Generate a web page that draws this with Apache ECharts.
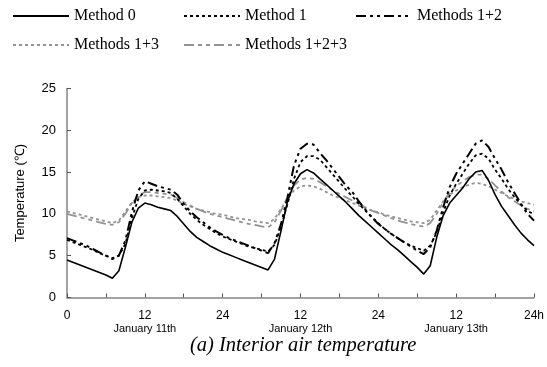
<!DOCTYPE html>
<html>
<head>
<meta charset="utf-8">
<script src="https://cdn.jsdelivr.net/npm/echarts@6/dist/echarts.min.js"></script>
<style>html,body{margin:0;padding:0;background:#fff;}#c{width:547px;height:367px;}</style>
</head>
<body>
<div id="c"></div>
<script>
var hours = [0,1,2,3,4,5,6,7,8,9,10,11,12,13,14,15,16,17,18,19,20,21,22,23,24,25,26,27,28,29,30,31,32,33,34,35,36,37,38,39,40,41,42,43,44,45,46,47,48,49,50,51,52,53,54,55,56,57,58,59,60,61,62,63,64,65,66,67,68,69,70,71,72];
var seriesNames = ['Method 0','Method 1','Methods 1+2','Methods 1+3','Methods 1+2+3'];
var method0 = [4.5,4.2,3.9,3.6,3.3,3.0,2.7,2.3,3.2,6.0,9.0,10.7,11.3,11.1,10.8,10.6,10.4,9.7,8.8,7.9,7.2,6.7,6.2,5.8,5.4,5.1,4.8,4.5,4.2,3.9,3.6,3.3,4.6,8.0,11.5,13.6,14.8,15.3,14.9,14.2,13.5,12.8,12.1,11.4,10.6,9.8,9.1,8.4,7.7,7.0,6.3,5.7,5.0,4.3,3.6,2.8,3.8,7.2,9.8,11.3,12.2,13.1,14.2,15.0,15.2,14.0,12.3,10.9,9.8,8.7,7.7,6.9,6.2];
var method1 = [6.9,6.6,6.3,6.0,5.7,5.3,5.0,4.7,5.0,6.4,9.5,11.8,12.8,12.9,12.8,12.7,12.5,11.8,10.9,10.0,9.3,8.7,8.2,7.7,7.3,7.0,6.7,6.4,6.1,5.9,5.7,5.5,6.3,8.5,11.2,14.2,16.2,16.9,16.9,16.5,15.6,14.7,13.8,12.9,12.1,11.2,10.4,9.6,8.9,8.2,7.6,7.1,6.6,6.2,5.9,5.6,6.2,7.8,10.2,12.2,13.6,14.8,16.0,17.0,17.2,16.6,15.3,14.2,13.0,12.0,11.1,10.4,9.9];
var method12 = [7.1,6.8,6.5,6.2,5.8,5.4,5.0,4.6,5.0,6.8,10.2,12.8,13.9,13.6,13.3,13.1,12.9,12.3,11.2,10.3,9.6,9.0,8.4,7.9,7.5,7.1,6.8,6.5,6.2,5.9,5.6,5.3,6.5,8.8,12.0,15.8,17.8,18.4,18.3,17.3,16.4,15.4,14.4,13.4,12.6,11.5,10.5,9.6,8.8,8.2,7.6,7.1,6.6,6.1,5.6,5.2,6.0,8.0,10.8,13.2,14.8,16.0,17.2,18.4,18.8,18.0,16.6,15.3,13.8,12.5,11.2,10.0,9.2];
var method13 = [10.3,10.1,9.9,9.7,9.5,9.3,9.1,8.9,9.2,10.3,11.4,12.0,12.2,12.2,12.1,12.0,11.9,11.6,11.2,10.9,10.6,10.4,10.2,10.0,9.9,9.7,9.5,9.4,9.3,9.1,9.0,8.9,9.4,10.6,11.8,12.8,13.3,13.4,13.3,13.0,12.6,12.2,11.9,11.6,11.3,11.0,10.7,10.4,10.2,9.9,9.7,9.5,9.3,9.1,9.0,8.9,9.3,10.4,11.5,12.3,12.8,13.2,13.5,13.7,13.6,13.3,12.9,12.5,12.1,11.8,11.5,11.3,11.1];
var method123 = [10.0,9.8,9.6,9.4,9.2,9.0,8.8,8.7,9.0,10.0,11.3,12.2,12.6,12.6,12.5,12.4,12.3,11.9,11.4,11.0,10.6,10.3,10.0,9.8,9.6,9.4,9.2,9.0,8.8,8.7,8.5,8.4,9.0,10.4,12.0,13.4,14.1,14.3,14.2,13.8,13.3,12.8,12.4,12.0,11.6,11.2,10.8,10.4,10.1,9.8,9.5,9.2,9.0,8.8,8.6,8.5,8.9,10.0,11.4,12.6,13.3,13.9,14.4,14.7,14.7,14.2,13.4,12.7,12.0,11.5,11.0,10.6,10.3];
var xTickLabels = {0:'0',12:'12',24:'24',36:'12',48:'24',60:'12',72:'24h'};
var dayLabels = {12:'January 11th',36:'January 12th',60:'January 13th'};
var yTicks = [0,5,10,15,20,25];
var caption = '(a) Interior air temperature';
var yName = 'Temperature (\u2103)';

function pairs(vals){ return hours.map(function(h,i){ return [h, vals[i]]; }); }

var styles = {
  'Method 0': {color:'#000', width:1.6, type:'solid'},
  'Method 1': {color:'#000', width:1.8, type:[3,3]},
  'Methods 1+2': {color:'#000', width:2, type:[10,4,3,4,3,4]},
  'Methods 1+3': {color:'#939393', width:1.8, type:[3,3]},
  'Methods 1+2+3': {color:'#939393', width:1.8, type:[10,4,4,4,4,4]}
};
var valuesByName = {'Method 0':method0,'Method 1':method1,'Methods 1+2':method12,'Methods 1+3':method13,'Methods 1+2+3':method123};
var drawOrder = ['Methods 1+3','Methods 1+2+3','Method 1','Methods 1+2','Method 0'];
var series = drawOrder.map(function(n, k){
  var s = styles[n];
  return {name:n, type:'line', data:pairs(valuesByName[n]), showSymbol:false, symbol:'none',
    lineStyle:{color:s.color, width:s.width, type:s.type}, itemStyle:{color:s.color}, z:2+k, animation:false, smooth:false};
});
var legendPos = [[7,3],[178,3],[350,3],[7,32],[178,32]];
var legends = seriesNames.map(function(n,i){
  return {data:[n], left:legendPos[i][0], top:legendPos[i][1], itemWidth:56, itemHeight:14, itemGap:0,
    itemStyle:{opacity:0}, selectedMode:false,
    textStyle:{fontFamily:'Liberation Serif', fontSize:16, color:'#000'}};
});

var chart = echarts.init(document.getElementById('c'), null, {renderer:'canvas'});
chart.setOption({
  animation:false,
  backgroundColor:'#fff',
  legend: legends,
  grid:{left:67, right:8, top:88.5, bottom:69.5, containLabel:false},
  xAxis:{type:'value', min:0, max:72, interval:6,
    axisLine:{lineStyle:{color:'#858585', width:1.5}},
    axisTick:{inside:true, length:4, lineStyle:{color:'#555', width:1}},
    splitLine:{show:false},
    axisLabel:{margin:12, showMinLabel:true, showMaxLabel:true, interval:0,
      formatter:function(v){ if(!(v in xTickLabels)) return ''; var t='{a|'+xTickLabels[v]+'}'; if(v in dayLabels) t+='\n{b|'+dayLabels[v]+'}'; return t; },
      rich:{a:{fontFamily:'Liberation Sans', fontSize:12, color:'#000', lineHeight:13}, b:{fontFamily:'Liberation Sans', fontSize:11, color:'#000', lineHeight:12}}}
  },
  yAxis:{type:'value', min:yTicks[0], max:yTicks[yTicks.length-1], interval:5,
    name:yName, nameLocation:'middle', nameGap:40, nameRotate:90,
    nameTextStyle:{fontFamily:'Liberation Sans', fontSize:13, color:'#000'},
    axisLine:{show:true, lineStyle:{color:'#858585', width:1.5}},
    axisTick:{show:true, inside:true, length:4, lineStyle:{color:'#555', width:1}},
    splitLine:{show:false},
    axisLabel:{margin:11, fontFamily:'Liberation Sans', fontSize:13, color:'#000'}
  },
  graphic:[{type:'text', left:190, top:336, style:{text:caption, font:'italic 20.5px "Liberation Serif"', fill:'#000'}}],
  series: series
});
</script>
</body>
</html>
